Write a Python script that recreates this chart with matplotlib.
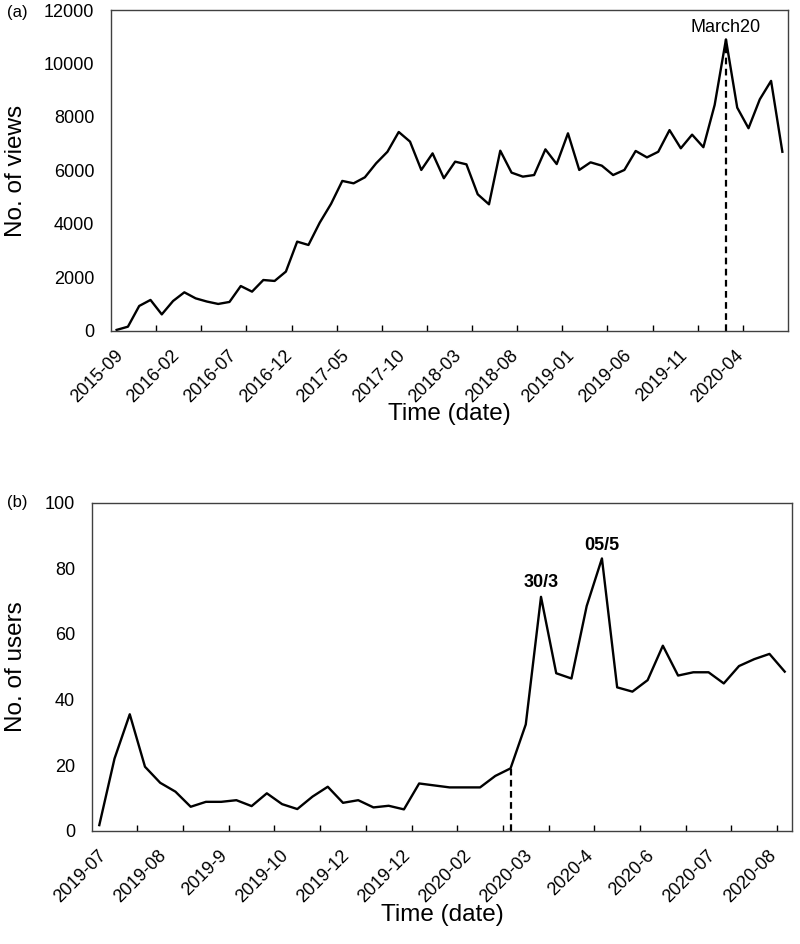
import numpy as np
import matplotlib
matplotlib.use("Agg")
import matplotlib.pyplot as plt
import matplotlib.transforms as mtransforms

plt.rcParams['font.family'] = ['Liberation Sans', 'DejaVu Sans']

# (a) monthly views, 2015-09 .. 2020-08
views = [40, 160, 935, 1160, 620, 1120, 1445, 1220, 1100, 1010,
         1085, 1680, 1470, 1905, 1870, 2220, 3340, 3215, 4050, 4750,
         5610, 5520, 5745, 6270, 6700, 7440, 7080, 6020, 6640, 5710,
         6330, 6230, 5110, 4735, 6740, 5920, 5770, 5830, 6790, 6240,
         7390, 6020, 6305, 6180, 5830, 6020, 6730, 6490, 6700, 7510,
         6830, 7340, 6870, 8450, 10900, 8350, 7580, 8660, 9350, 6700]
views_labels = ["2015-09", "2016-02", "2016-07", "2016-12", "2017-05", "2017-10",
                "2018-03", "2018-08", "2019-01", "2019-06", "2019-11", "2020-04"]

# (b) users
users = [1.7, 22, 35.5, 19.5, 14.6, 11.9, 7.3, 8.8, 8.8, 9.3,
         7.5, 11.4, 8.1, 6.6, 10.4, 13.4, 8.5, 9.3, 7.1, 7.6,
         6.5, 14.4, 13.8, 13.2, 13.2, 13.2, 16.7, 19.0, 32.4, 71.3,
         48.0, 46.4, 68.5, 83.0, 43.7, 42.4, 45.9, 56.4, 47.3, 48.3,
         48.3, 44.9, 50.2, 52.3, 53.9, 48.5]
users_labels = ["2019-07", "2019-08", "2019-9", "2019-10", "2019-12", "2019-12",
                "2020-02", "2020-03", "2020-4", "2020-6", "2020-07", "2020-08"]
users_mark = 27          # start of the rise (dashed line)
users_peaks = [(29, "30/3", 7), (33, "05/5", 6)]

fig = plt.figure(figsize=(8, 9.44), dpi=100)
ax1 = fig.add_axes([0.13875, 0.6494, 0.84625, 0.34])
ax2 = fig.add_axes([0.1146, 0.12002, 0.8758, 0.34746])


def style(ax, n, tick_step, lab_step, labels, ymax, ystep):
    ax.set_xlim(-0.5, n - 0.5)
    ax.set_ylim(0, ymax)
    ax.set_yticks(np.arange(0, ymax + 1, ystep))
    ax.tick_params(axis='y', length=0, pad=12, labelsize=13)
    ax.set_xticks(np.arange(tick_step, n, tick_step) - 0.5)
    ax.tick_params(axis='x', which='major', direction='in', length=4.3,
                   width=1, labelbottom=False)
    ax.set_xticks(np.arange(0, n, lab_step)[:len(labels)], minor=True)
    ax.set_xticklabels(labels, minor=True, rotation=45, ha='right',
                       va='center', rotation_mode='anchor', fontsize=13)
    ax.tick_params(axis='x', which='minor', length=0, pad=16)
    off = mtransforms.ScaledTranslation(4 / 100, 0, fig.dpi_scale_trans)
    for t in ax.get_xticklabels(minor=True):
        t.set_transform(t.get_transform() + off)
    for s in ax.spines.values():
        s.set_color('#404040')
        s.set_linewidth(1.0)


# (a)
x1 = np.arange(len(views))
ax1.plot(x1, views, color='black', lw=1.7)
style(ax1, len(views), 4, 5, views_labels, 12000, 2000)
peak = int(np.argmax(views))
ax1.vlines(peak, 0, views[peak], colors='black', linestyles=(0, (3, 2)), lw=1.6)
ax1.annotate("March20", xy=(peak, views[peak]), xytext=(0, 5),
             textcoords='offset points', ha='center', va='baseline', fontsize=13)
ax1.set_ylabel("No. of views", fontsize=17.5)
ax1.yaxis.set_label_coords(-0.1396, 0.5)
ax1.yaxis.label.set_va('center')
ax1.set_xlabel("Time (date)", fontsize=17.5)
ax1.xaxis.set_label_coords(0.5, -0.2586)
ax1.xaxis.label.set_va('center')

# (b)
x2 = np.arange(len(users))
ax2.plot(x2, users, color='black', lw=1.7)
style(ax2, len(users), 3, 4, users_labels, 100, 20)
ax2.vlines(users_mark, 0, users[users_mark], colors='black',
           linestyles=(0, (3, 2)), lw=1.6)
for i, txt, dy in users_peaks:
    ax2.annotate(txt, xy=(i, users[i]), xytext=(0, dy), textcoords='offset points',
                 ha='center', va='baseline', fontsize=13, fontweight='bold')
ax2.set_ylabel("No. of users", fontsize=17.5)
ax2.yaxis.set_label_coords(-0.108, 0.5)
ax2.yaxis.label.set_va('center')
ax2.set_xlabel("Time (date)", fontsize=17.5)
ax2.xaxis.set_label_coords(0.5, -0.256)
ax2.xaxis.label.set_va('center')

fig.text(17 / 800, 1 - 12.5 / 944, "(a)", ha='center', va='center', fontsize=12)
fig.text(17 / 800, 1 - 502.5 / 944, "(b)", ha='center', va='center', fontsize=12)

fig.savefig("out.png", dpi=100)
